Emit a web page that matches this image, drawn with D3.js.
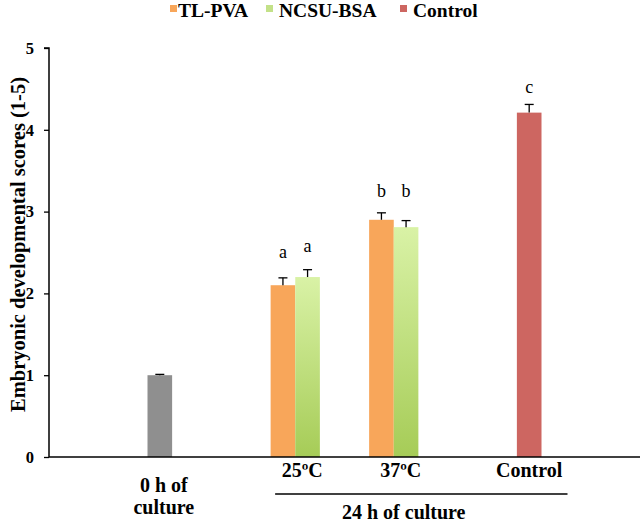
<!DOCTYPE html>
<html>
<head>
<meta charset="utf-8">
<script src="https://cdn.jsdelivr.net/npm/d3@7"></script>
<style>
  html, body { margin: 0; padding: 0; background: #fff; }
  svg { display: block; }
  text { font-family: "Liberation Serif", "Times New Roman", serif; }
</style>
</head>
<body>
<div id="chart"></div>
<script>
// ---------- data ----------
const categories = ["0 h", "25ºC", "37ºC", "Control"];
const seriesNames = ["0 h of culture", "TL-PVA", "NCSU-BSA", "Control"];
const zeroHValues   = [1.00, null, null, null];
const zeroHErrors   = [0.01, null, null, null];
const tlpvaValues   = [null, 2.10, 2.90, null];
const tlpvaErrors   = [null, 0.09, 0.085, null];
const ncsuValues    = [null, 2.20, 2.81, null];
const ncsuErrors    = [null, 0.09, 0.08, null];
const controlValues = [null, null, null, 4.21];
const controlErrors = [null, null, null, 0.10];
// significance letters: [category, series, letter, height (score units)]
const sigLetters = [
  ["25ºC", "TL-PVA", "a", 2.50],
  ["25ºC", "NCSU-BSA", "a", 2.57],
  ["37ºC", "TL-PVA", "b", 3.24],
  ["37ºC", "NCSU-BSA", "b", 3.24],
  ["Control", "Control", "c", 4.52]
];
const yTicks = [0, 1, 2, 3, 4, 5];
const legendItems = ["TL-PVA", "NCSU-BSA", "Control"];
const yTitle = "Embryonic developmental scores (1-5)";
const groupLabel = "24 h of culture";

// ---------- layout ----------
const W = 643, H = 525;
const mLeft = 49, mRight = 640, mTop = 48, mBottom = 457;

const svg = d3.select("#chart").append("svg").attr("width", W).attr("height", H);
const defs = svg.append("defs");
const grad = defs.append("linearGradient").attr("id", "greenGrad")
  .attr("x1", 0).attr("y1", 0).attr("x2", 0).attr("y2", 1);
grad.append("stop").attr("offset", "0%").attr("stop-color", "#d9f2a6");
grad.append("stop").attr("offset", "100%").attr("stop-color", "#a6cc57");

const colors = {
  "0 h of culture": "#8f8f8f",
  "TL-PVA": "#f8a65a",
  "NCSU-BSA": "url(#greenGrad)",
  "Control": "#cd6661"
};
const legendColors = { "TL-PVA": "#f8a65a", "NCSU-BSA": "#c3e188", "Control": "#cd6661" };

const x0 = d3.scaleBand().domain(categories).range([mLeft, mRight])
  .paddingInner(0).paddingOuter(1);
const x1 = d3.scaleBand().domain(seriesNames).range([0, x0.bandwidth()]);
const y = d3.scaleLinear().domain([0, 5]).range([mBottom, mTop]);

const seriesData = [
  [seriesNames[0], zeroHValues, zeroHErrors],
  [seriesNames[1], tlpvaValues, tlpvaErrors],
  [seriesNames[2], ncsuValues, ncsuErrors],
  [seriesNames[3], controlValues, controlErrors]
];
const bars = [];
seriesData.forEach(([s, vals, errs]) => {
  vals.forEach((v, i) => {
    if (v != null) bars.push({ cat: categories[i], series: s, value: v, err: errs[i] });
  });
});
const barCenter = (c, s) => x0(c) + x1(s) + x1.bandwidth() / 2;

// bars
svg.append("g").selectAll("rect").data(bars).join("rect")
  .attr("x", d => x0(d.cat) + x1(d.series))
  .attr("width", x1.bandwidth())
  .attr("y", d => y(d.value))
  .attr("height", d => y(0) - y(d.value))
  .attr("fill", d => colors[d.series]);

// error bars
const eb = svg.append("g").attr("stroke", "#000").attr("stroke-width", 1.3);
bars.forEach(d => {
  const cx = barCenter(d.cat, d.series);
  eb.append("line").attr("x1", cx).attr("x2", cx)
    .attr("y1", y(d.value)).attr("y2", y(d.value + d.err));
  eb.append("line").attr("x1", cx - 4.5).attr("x2", cx + 4.5)
    .attr("y1", y(d.value + d.err)).attr("y2", y(d.value + d.err));
});

// significance letters
svg.append("g").selectAll("text").data(sigLetters).join("text")
  .attr("x", d => barCenter(d[0], d[1]))
  .attr("y", d => y(d[3]))
  .attr("dy", "0.3em")
  .attr("text-anchor", "middle")
  .attr("font-size", 18)
  .text(d => d[2]);

// y axis
const yAxis = d3.axisLeft(y).tickValues(yTicks).tickFormat(d3.format("d")).tickSize(5).tickPadding(10);
const gy = svg.append("g").attr("transform", `translate(${mLeft},0)`).call(yAxis);
gy.attr("font-family", null).attr("font-size", null);
gy.select(".domain").attr("stroke", "#000").attr("stroke-width", 1.5).attr("d", `M-5,${mTop}H0V${mBottom}`);
gy.selectAll(".tick line").attr("stroke", "#000").attr("stroke-width", 1.3);
gy.selectAll(".tick text").attr("font-size", 16.5).attr("font-weight", "bold").attr("fill", "#000");

// x axis line
const xAxis = d3.axisBottom(x0).tickSize(0).tickFormat("");
const gx = svg.append("g").attr("transform", `translate(0,${mBottom})`).call(xAxis);
gx.select(".domain").attr("stroke", "#000").attr("stroke-width", 1.5).attr("d", `M${mLeft},0H${mRight}`);

// x category labels
const labelStyle = sel => sel.attr("font-size", 20).attr("font-weight", "bold").attr("text-anchor", "middle");
const xl = svg.append("g");
xl.append("text").attr("x", x0("25ºC") + x0.bandwidth() / 2 + 7).attr("y", 477).call(labelStyle).text("25ºC");
xl.append("text").attr("x", x0("37ºC") + x0.bandwidth() / 2 + 7).attr("y", 477).call(labelStyle).text("37ºC");
xl.append("text").attr("x", barCenter("Control", "Control")).attr("y", 477).call(labelStyle).text("Control");
const zx = barCenter("0 h", seriesNames[0]) + 4;
xl.append("text").attr("x", zx).attr("y", 492).call(labelStyle).text("0 h of");
xl.append("text").attr("x", zx).attr("y", 514).call(labelStyle).text("culture");

// group bracket for 24 h
const gStart = x0("25ºC") + x1("TL-PVA") + 4.5;
const gEnd = x0("Control") + x1("Control") + x1.bandwidth() + 26;
svg.append("line").attr("x1", gStart).attr("x2", gEnd).attr("y1", 494).attr("y2", 494)
  .attr("stroke", "#000").attr("stroke-width", 1.5);
svg.append("text").attr("x", x0("37ºC") + x0.bandwidth() / 2 + 10).attr("y", 519).call(labelStyle).text(groupLabel);

// y title
svg.append("text")
  .attr("transform", `translate(25,${(mTop + mBottom) / 2 - 8}) rotate(-90)`)
  .attr("text-anchor", "middle").attr("font-size", 20.5).attr("font-weight", "bold")
  .text(yTitle);

// legend
const legendX = { "TL-PVA": 170, "NCSU-BSA": 266, "Control": 400 };
const legendTextX = { "TL-PVA": 178, "NCSU-BSA": 279, "Control": 413 };
const lg = svg.append("g");
legendItems.forEach(s => {
  lg.append("rect").attr("x", legendX[s]).attr("y", 5).attr("width", 7).attr("height", 7)
    .attr("fill", legendColors[s]);
  lg.append("text").attr("x", legendTextX[s]).attr("y", 17)
    .attr("font-size", 19.5).attr("font-weight", "bold").text(s);
});
</script>
</body>
</html>
